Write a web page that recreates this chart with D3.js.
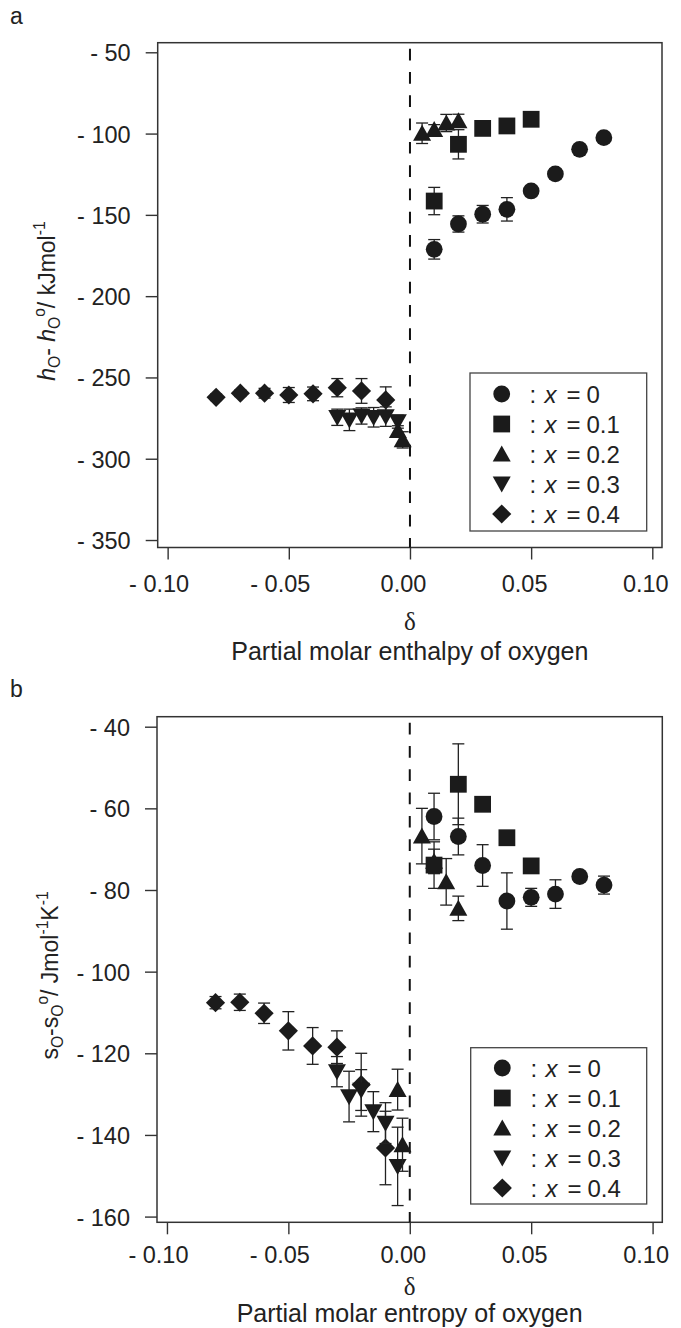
<!DOCTYPE html>
<html><head><meta charset="utf-8">
<script src="https://cdn.jsdelivr.net/npm/d3@7"></script>
<style>
html,body{margin:0;padding:0;background:#fff;}
svg{display:block;font-family:"Liberation Sans",Arial,sans-serif;}
</style></head>
<body>
<script>
// ---------- DATA ----------
const seriesLabels = ["0", "0.1", "0.2", "0.3", "0.4"];
const xTicks = [-0.10, -0.05, 0.00, 0.05, 0.10];
const xTickLabels = ["- 0.10", "- 0.05", "0.00", "0.05", "0.10"];
const yTicksA = [-50, -100, -150, -200, -250, -300, -350];
const yTicksB = [-40, -60, -80, -100, -120, -140, -160];

// Panel a: partial molar enthalpy
const a0_d = [0.01, 0.02, 0.03, 0.04, 0.05, 0.06, 0.07, 0.08];
const a0_v = [-171.2, -155.6, -149.6, -146.6, -135.3, -124.8, -109.7, -102.5];
const a0_e = [6, 5, 5.4, 7.2, 3, 3, 2, 2];
const a1_d = [0.01, 0.02, 0.03, 0.04, 0.05];
const a1_v = [-141.5, -106.6, -96.8, -95.3, -91.2];
const a1_e = [8.4, 9, 2, 2, 2];
const a2_d = [-0.005, -0.003, 0.005, 0.01, 0.015, 0.02];
const a2_v = [-282.7, -288.4, -99.8, -97.5, -93.5, -92.1];
const a2_e = [3, 5, 6.3, 3, 5.3, 4];
const a3_d = [-0.03, -0.025, -0.02, -0.015, -0.01, -0.005];
const a3_v = [-274.5, -276.1, -273.7, -274.5, -274.1, -277.2];
const a3_e = [5, 6.6, 5, 6, 6, 4];
const a4_d = [-0.08, -0.07, -0.06, -0.05, -0.04, -0.03, -0.02, -0.01];
const a4_v = [-262.2, -259.7, -259.7, -260.8, -260.1, -256.3, -258.3, -263.8];
const a4_e = [2, 2, 3, 4.6, 4.2, 5.6, 7.6, 8];

// Panel b: partial molar entropy
const b0_d = [0.01, 0.02, 0.03, 0.04, 0.05, 0.06, 0.07, 0.08];
const b0_v = [-62.0, -66.9, -74.0, -82.7, -81.8, -81.0, -76.7, -78.8];
const b0_e = [5.7, 4.5, 5.1, 6.9, 2.2, 3.5, 1, 2.2];
const b1_d = [0.01, 0.02, 0.03, 0.04, 0.05];
const b1_v = [-73.9, -54.1, -59.0, -67.2, -74.1];
const b1_e = [5.7, 9.9, 1, 1, 1];
const b2_d = [-0.005, -0.003, 0.005, 0.01, 0.015, 0.02];
const b2_v = [-128.9, -142.4, -66.8, -73.0, -78.0, -84.5];
const b2_e = [5, 6.5, 6.8, 3, 5.7, 3];
const b3_d = [-0.03, -0.025, -0.02, -0.015, -0.01, -0.005];
const b3_v = [-124.5, -130.6, -129.0, -134.3, -137.1, -147.7];
const b3_e = [3.7, 6.2, 5, 4.9, 5, 9.6];
const b4_d = [-0.08, -0.07, -0.06, -0.05, -0.04, -0.03, -0.02, -0.01];
const b4_v = [-107.6, -107.5, -110.2, -114.5, -118.2, -118.5, -127.7, -143.2];
const b4_e = [1.5, 2, 2.5, 4.7, 4.5, 4, 7.7, 9];

// ---------- DRAW ----------
const svg = d3.select("body").append("svg").attr("width", 681).attr("height", 1328);
const INK = "#1b1b1b";
const TXT = "#222";
const shapes = ["circle", "square", "up", "down", "diamond"];

function symbolPath(kind) {
  const s = 8.4;
  if (kind === "circle") return d3.symbol(d3.symbolCircle, Math.PI * s * s)();
  if (kind === "square") return `M${-s},${-s}H${s}V${s}H${-s}Z`;
  if (kind === "up") return `M0,${-8.6}L${9},${7.4}L${-9},${7.4}Z`;
  if (kind === "down") return `M0,${8.6}L${9},${-7.4}L${-9},${-7.4}Z`;
  return `M0,-9.6L9.6,0L0,9.6L-9.6,0Z`;
}

function pack(d, v, e) { return d.map((x, i) => ({ d: x, v: v[i], e: e[i] })); }

function labelText(g, x, y, segs, size) {
  const t = g.append("text").attr("transform", `translate(${x},${y}) rotate(-90)`)
    .attr("text-anchor", "middle").attr("fill", TXT).style("font-size", size + "px");
  let prev = 0;
  segs.forEach(s => {
    const shift = s.sub ? 5 : s.sup ? -10 : 0;
    const ts = t.append("tspan").text(s.t).attr("dy", shift - prev);
    if (s.sub || s.sup) ts.style("font-size", (size * 0.68) + "px");
    if (s.it) ts.style("font-style", "italic");
    prev = shift;
  });
}

function panel(cfg) {
  const x = d3.scaleLinear().domain([-0.1041, 0.1040]).range([cfg.left, cfg.right]);
  const y = d3.scaleLinear().domain(cfg.ydom).range([cfg.bottom, cfg.top]);
  const g = svg.append("g");

  // axes
  const ya = g.append("g").attr("transform", `translate(${cfg.left},0)`)
    .call(d3.axisLeft(y).tickValues(cfg.yTicks).tickSize(12).tickPadding(15)
      .tickFormat(v => "- " + Math.abs(v)));
  const xa = g.append("g").attr("transform", `translate(0,${cfg.bottom})`)
    .call(d3.axisBottom(x).tickValues(xTicks).tickSize(12)
      .tickFormat((v, i) => xTickLabels[i]));
  [ya, xa].forEach(a => {
    a.select(".domain").remove();
    a.selectAll("line").attr("stroke", "#333").attr("stroke-width", 1.4);
    a.selectAll("text").attr("fill", TXT).style("font-size", "23.5px")
      .style("font-family", '"Liberation Sans",Arial,sans-serif');
  });
  xa.selectAll("text").attr("y", cfg.xLabOff).attr("dy", 0).attr("dx", v => v < 0 ? -9 : -7);
  ya.selectAll("text").attr("dy", "0.36em");

  // frame
  g.append("rect").attr("x", cfg.left).attr("y", cfg.top)
    .attr("width", cfg.right - cfg.left).attr("height", cfg.bottom - cfg.top)
    .attr("fill", "none").attr("stroke", "#333").attr("stroke-width", 1.5);

  // dashed zero line
  g.append("line").attr("x1", x(0)).attr("x2", x(0)).attr("y1", cfg.top).attr("y2", cfg.bottom)
    .attr("stroke", "#111").attr("stroke-width", 2).attr("stroke-dasharray", "11.7,11.6")
    .attr("stroke-dashoffset", -6);

  // series (draw order: diamond, down, up, circle, square)
  const order = [4, 3, 2, 0, 1];
  order.forEach(si => {
    const data = cfg.series[si];
    const sg = g.append("g");
    data.forEach(p => {
      const cx = x(p.d), y1 = y(p.v + p.e), y2 = y(p.v - p.e);
      sg.append("line").attr("x1", cx).attr("x2", cx).attr("y1", y1).attr("y2", y2)
        .attr("stroke", "#222").attr("stroke-width", 1.3);
      [y1, y2].forEach(yy => sg.append("line").attr("x1", cx - 6).attr("x2", cx + 6)
        .attr("y1", yy).attr("y2", yy).attr("stroke", "#222").attr("stroke-width", 1.3));
    });
    sg.selectAll("path.m").data(data).join("path").attr("class", "m")
      .attr("d", symbolPath(shapes[si]))
      .attr("transform", p => `translate(${x(p.d)},${y(p.v)})`)
      .attr("fill", INK);
  });

  // legend
  const L = cfg.legend;
  g.append("rect").attr("x", L.x0).attr("y", L.y0).attr("width", L.x1 - L.x0).attr("height", L.y1 - L.y0)
    .attr("fill", "#fff").attr("stroke", "#444").attr("stroke-width", 1.3);
  seriesLabels.forEach((lab, i) => {
    const yy = L.row0 + i * 30;
    g.append("path").attr("d", symbolPath(shapes[i])).attr("transform", `translate(${L.sx},${yy})`).attr("fill", INK);
    const t = g.append("text").attr("y", yy + 8.5).attr("fill", TXT).style("font-size", "24px");
    t.append("tspan").attr("x", L.tx).text(":");
    t.append("tspan").attr("x", L.tx + 15).text("x").style("font-style", "italic");
    t.append("tspan").attr("x", L.tx + 37).text("=");
    t.append("tspan").attr("x", L.tx + 57).text(lab);
  });

  // panel letter, delta, caption
  svg.append("text").attr("x", 10).attr("y", cfg.letterY).text(cfg.letter)
    .attr("fill", TXT).style("font-size", "23px");
  svg.append("text").attr("x", (cfg.left + cfg.right) / 2).attr("y", cfg.deltaY).text("δ")
    .attr("text-anchor", "middle").attr("fill", TXT)
    .style("font-family", '"Liberation Serif","DejaVu Serif",serif').style("font-size", "25px");
  svg.append("text").attr("x", (cfg.left + cfg.right) / 2).attr("y", cfg.capY).text(cfg.caption)
    .attr("text-anchor", "middle").attr("fill", TXT).style("font-size", "25px");

  labelText(svg, cfg.ylabX, (cfg.top + cfg.bottom) / 2 + 6, cfg.ylabel, 23);
}

panel({
  left: 157.7, right: 662, top: 42.7, bottom: 547.5, ydom: [-354.6, -44.1], yTicks: yTicksA, xLabOff: 44.2,
  series: [pack(a0_d, a0_v, a0_e), pack(a1_d, a1_v, a1_e), pack(a2_d, a2_v, a2_e), pack(a3_d, a3_v, a3_e), pack(a4_d, a4_v, a4_e)],
  legend: { x0: 470, x1: 646.7, y0: 373, y1: 531, row0: 394, sx: 501.7, tx: 529.5 },
  letter: "a", letterY: 24, deltaY: 630, capY: 660, caption: "Partial molar enthalpy of oxygen",
  ylabX: 55,
  ylabel: [{ t: "h", it: true }, { t: "O", sub: true }, { t: "- " }, { t: "h", it: true }, { t: "O", sub: true },
           { t: "o", sup: true }, { t: "/ kJmol" }, { t: "-1", sup: true }]
});

panel({
  left: 157, right: 662.3, top: 716.7, bottom: 1222.3, ydom: [-161.4, -37.55], yTicks: yTicksB, xLabOff: 41,
  series: [pack(b0_d, b0_v, b0_e), pack(b1_d, b1_v, b1_e), pack(b2_d, b2_v, b2_e), pack(b3_d, b3_v, b3_e), pack(b4_d, b4_v, b4_e)],
  legend: { x0: 470.7, x1: 646.7, y0: 1047.7, y1: 1204, row0: 1068, sx: 502.3, tx: 530.5 },
  letter: "b", letterY: 697, deltaY: 1295, capY: 1322, caption: "Partial molar entropy of oxygen",
  ylabX: 58,
  ylabel: [{ t: "s" }, { t: "O", sub: true }, { t: "-s" }, { t: "O", sub: true }, { t: "o", sup: true },
           { t: "/ Jmol" }, { t: "-1", sup: true }, { t: "K" }, { t: "-1", sup: true }]
});
</script>
</body></html>
